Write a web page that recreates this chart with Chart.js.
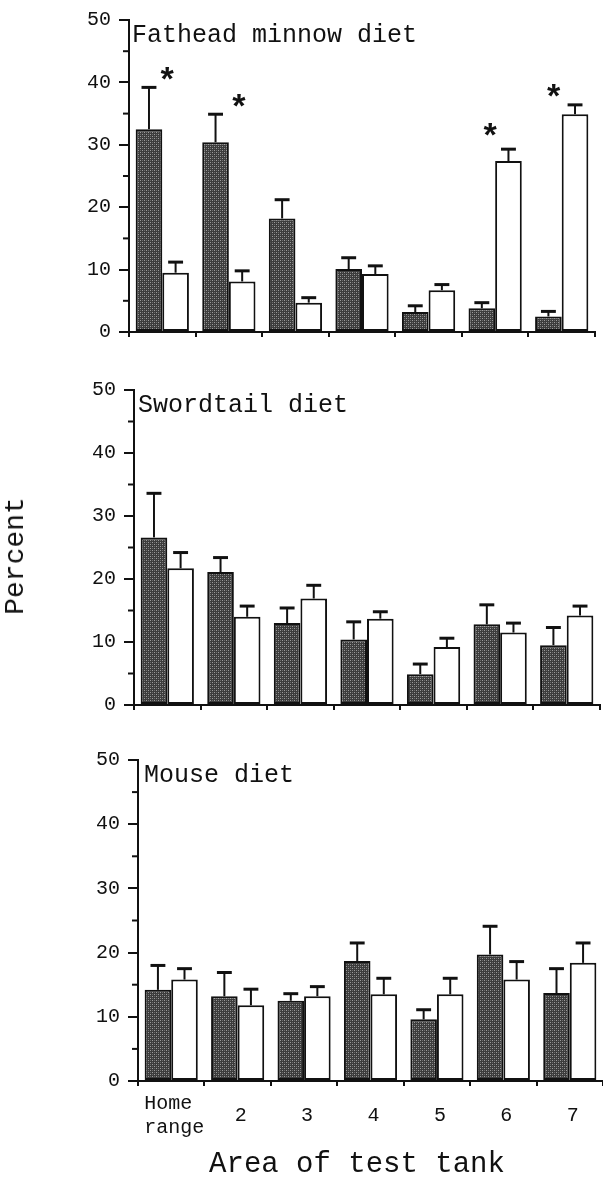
<!DOCTYPE html>
<html>
<head>
<meta charset="utf-8">
<script src="https://cdn.jsdelivr.net/npm/chart.js@4.4.0/dist/chart.umd.min.js"></script>
<style>
body { margin:0; background:#fff; width:603px; height:1179px; position:relative; overflow:hidden; font-family:"Liberation Mono", monospace; color:#111; }
canvas { position:absolute; left:0; }
.lbl { position:absolute; white-space:nowrap; line-height:1; }
</style>
</head>
<body>
<canvas id="fathead" width="603" height="352" style="top:0"></canvas>
<canvas id="sword" width="603" height="355" style="top:370px"></canvas>
<canvas id="mouse" width="603" height="410" style="top:740px"></canvas>
<div class="lbl" style="left:16px;top:556px;font-size:28px;transform:translate(-50%,-50%) rotate(-90deg)">Percent</div>
<div class="lbl" style="left:357px;top:1164px;font-size:29px;transform:translate(-50%,-50%)">Area of test tank</div>
<script>
// areas of the test tank
var categories = [['Home ', 'range'], '2', '3', '4', '5', '6', '7'];
var yTicks = [0, 10, 20, 30, 40, 50];
var minorTicks = [5, 15, 25, 35, 45];

// fathead minnow diet
var fatheadDark = [32.5, 30.4, 18.2, 10.1, 3.2, 3.8, 2.5];
var fatheadDarkErr = [6.7, 4.5, 3.0, 1.8, 1.0, 0.9, 0.8];
var fatheadWhite = [9.5, 8.1, 4.7, 9.3, 6.7, 27.4, 34.9];
var fatheadWhiteErr = [1.7, 1.7, 0.8, 1.3, 0.9, 1.9, 1.5];
var fatheadStars = [0, 1, 5, 6];
var fatheadStarVals = [41.0, 36.6, 31.9, 38.3];

// swordtail diet
var swordDark = [26.6, 21.1, 13.0, 10.4, 4.9, 12.8, 9.5];
var swordDarkErr = [7.0, 2.3, 2.4, 2.8, 1.6, 3.1, 2.8];
var swordWhite = [21.7, 14.0, 16.9, 13.7, 9.2, 11.5, 14.2];
var swordWhiteErr = [2.5, 1.7, 2.1, 1.1, 1.4, 1.5, 1.5];

// mouse diet
var mouseDark = [14.2, 13.2, 12.5, 18.7, 9.6, 19.7, 13.7];
var mouseDarkErr = [3.8, 3.7, 1.1, 2.8, 1.5, 4.4, 3.8];
var mouseWhite = [15.8, 11.8, 13.2, 13.5, 13.5, 15.8, 18.4];
var mouseWhiteErr = [1.7, 2.5, 1.5, 2.5, 2.5, 2.8, 3.1];

var INK = '#111';
var FONT = '"Liberation Mono", monospace';

function stipple() {
  var c = document.createElement('canvas');
  c.width = 4; c.height = 4;
  var g = c.getContext('2d');
  g.fillStyle = '#3c3c3c'; g.fillRect(0, 0, 4, 4);
  g.fillStyle = '#9c9c9c'; g.fillRect(0, 0, 1, 1); g.fillRect(2, 2, 1, 1);
  g.fillStyle = '#6c6c6c'; g.fillRect(2, 0, 1, 1); g.fillRect(0, 2, 1, 1);
  return g.createPattern(c, 'repeat');
}
var darkFill = stipple();

// error bars, minor ticks, panel title and asterisks
var decor = {
  id: 'decor',
  afterDatasetsDraw: function(chart, args, o) {
    var ctx = chart.ctx, xs = chart.scales.x, ys = chart.scales.y;
    ctx.save();
    ctx.strokeStyle = INK; ctx.fillStyle = INK;
    chart.data.datasets.forEach(function(ds, i) {
      chart.getDatasetMeta(i).data.forEach(function(bar, j) {
        var top = ys.getPixelForValue(ds.data[j] + ds.err[j]);
        var cap = bar.width * 0.28;
        ctx.lineWidth = 2;
        ctx.beginPath(); ctx.moveTo(bar.x, bar.y); ctx.lineTo(bar.x, top); ctx.stroke();
        ctx.lineWidth = 3;
        ctx.beginPath(); ctx.moveTo(bar.x - cap, top); ctx.lineTo(bar.x + cap, top); ctx.stroke();
      });
    });
    ctx.lineWidth = 2;
    minorTicks.forEach(function(v) {
      var y = ys.getPixelForValue(v);
      ctx.beginPath(); ctx.moveTo(xs.left - 6, y); ctx.lineTo(xs.left, y); ctx.stroke();
    });
    ctx.font = '25px ' + FONT;
    ctx.textAlign = 'left'; ctx.textBaseline = 'alphabetic';
    ctx.fillText(o.title, chart.chartArea.left + o.titleDx, chart.chartArea.top + 22);
    if (o.stars) {
      ctx.font = 'bold 34px ' + FONT;
      ctx.textAlign = 'center';
      var m = ctx.measureText('*');
      var shift = (m.actualBoundingBoxAscent - m.actualBoundingBoxDescent) / 2;
      o.stars.forEach(function(c, k) {
        ctx.fillText('*', xs.getPixelForValue(c) + o.starDx[k], ys.getPixelForValue(o.starVals[k]) + shift - 3);
      });
    }
    ctx.restore();
  }
};

function makeChart(id, dark, darkErr, white, whiteErr, box) {
  var canvas = document.getElementById(id);
  return new Chart(canvas, {
    type: 'bar',
    data: {
      labels: categories,
      datasets: [
        { data: dark, err: darkErr, backgroundColor: darkFill, borderColor: INK, borderWidth: 2, borderSkipped: false },
        { data: white, err: whiteErr, backgroundColor: '#fff', borderColor: INK, borderWidth: 2, borderSkipped: false }
      ]
    },
    options: {
      responsive: false,
      animation: false,
      layout: { padding: { top: box.top, right: 603 - box.right, left: 0, bottom: 0 } },
      datasets: { bar: { categoryPercentage: 0.8, barPercentage: 1.0 } },
      plugins: {
        legend: { display: false },
        tooltip: { enabled: false },
        decor: box.decor
      },
      scales: {
        x: {
          grid: { drawOnChartArea: false, offset: true, tickLength: 5, lineWidth: 2, color: INK },
          border: { display: true, width: 2, color: INK },
          ticks: { display: !!box.labels, color: INK, font: { family: FONT, size: 20 }, padding: 18, labelOffset: 3, crossAlign: 'center', maxRotation: 0, autoSkip: false },
          afterFit: function(s) { s.height = canvas.height - box.bottom; }
        },
        y: {
          min: 0, max: 50,
          afterBuildTicks: function(s) { s.ticks = yTicks.map(function(v) { return { value: v }; }); },
          grid: { drawOnChartArea: false, tickLength: 10, lineWidth: 2, color: INK },
          border: { display: true, width: 2, color: INK },
          ticks: { color: INK, font: { family: FONT, size: 20 }, padding: 8 },
          afterFit: function(s) { s.width = box.left; }
        }
      }
    },
    plugins: [decor]
  });
}

makeChart('fathead', fatheadDark, fatheadDarkErr, fatheadWhite, fatheadWhiteErr, {
  left: 129, right: 595, top: 14, bottom: 336,
  decor: { title: 'Fathead minnow diet', titleDx: 3, stars: fatheadStars, starVals: fatheadStarVals, starDx: [5, 10, -5, -8] }
});
makeChart('sword', swordDark, swordDarkErr, swordWhite, swordWhiteErr, {
  left: 134, right: 600, top: 19, bottom: 341,
  decor: { title: 'Swordtail diet', titleDx: 4 }
});
makeChart('mouse', mouseDark, mouseDarkErr, mouseWhite, mouseWhiteErr, {
  left: 138, right: 603, top: 19, bottom: 341, labels: true,
  decor: { title: 'Mouse diet', titleDx: 6 }
});
</script>
</body>
</html>
